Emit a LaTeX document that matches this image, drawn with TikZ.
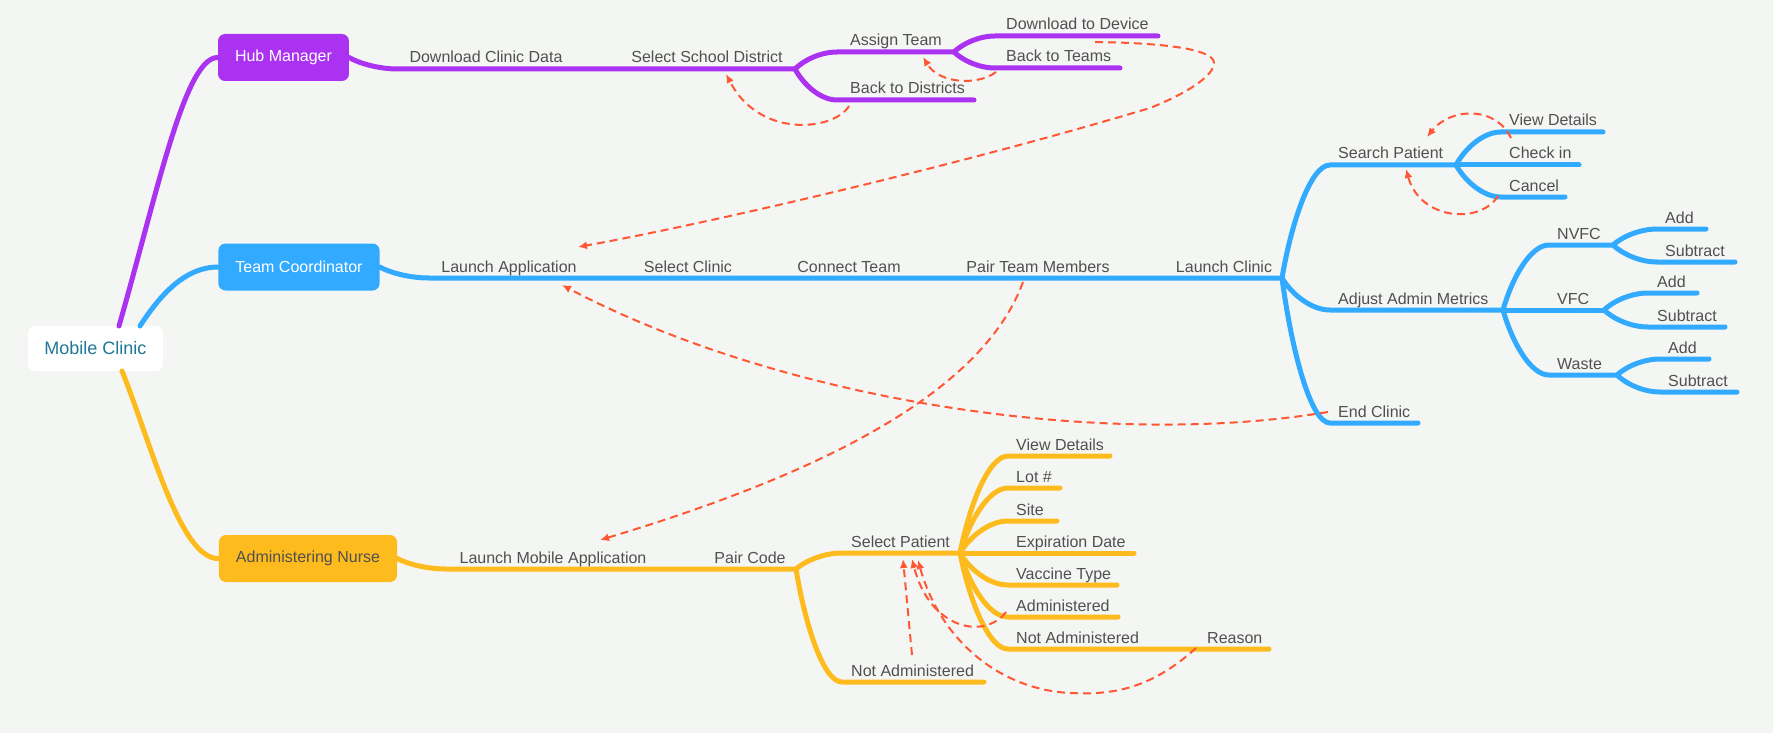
\documentclass[tikz,border=0pt]{standalone}
\usepackage{fontspec}
\setmainfont{Liberation Sans}
\usetikzlibrary{calc,arrows.meta}

\definecolor{bgcol}{RGB}{244,246,243}
\definecolor{hubcol}{RGB}{170,50,240}
\definecolor{teamcol}{RGB}{50,170,255}
\definecolor{nursecol}{RGB}{253,187,30}
\definecolor{backcol}{RGB}{255,87,51}
\definecolor{txtcol}{RGB}{80,80,80}
\definecolor{rootcol}{RGB}{30,120,150}

\begin{document}
\begin{tikzpicture}[x=1pt, y=-1pt,
  lbl/.style={font=\fontsize{16}{19}\selectfont, text=txtcol, inner sep=0pt, anchor=base west},
  midlbl/.style={lbl, anchor=base},
  topic/.style={rounded corners=7pt, minimum height=47pt, inner xsep=17pt, inner ysep=0pt, font=\fontsize{16}{19}\selectfont},
  bough/.style={to path={let \p1=(\tikztostart), \p2=(\tikztotarget) in
    .. controls ({\x1+0.2*((\x2)-(\x1))},{\y1+0.5*((\y2)-(\y1))}) and ({\x2-0.4*((\x2)-(\x1))},{\y2}) .. (\tikztotarget) \tikztonodes}},
  hubline/.style={draw=hubcol, line width=5pt, line cap=round},
  teamline/.style={draw=teamcol, line width=5pt, line cap=round},
  nurseline/.style={draw=nursecol, line width=5pt, line cap=round},
  goback/.style={draw=backcol, line width=2pt, dash pattern=on 8pt off 5pt, -{Latex[length=9pt,width=8pt]}}]
\fill[bgcol] (0,0) rectangle (1773,733); % background
\useasboundingbox (0,0) rectangle (1773,733);

% topics
\node[topic, fill=white, text=rootcol, font=\fontsize{18}{21}\selectfont, minimum height=45pt, inner xsep=16.5pt] (root) at (95.5,348.5) {Mobile Clinic};
\node[topic, fill=hubcol, text=white] (hub) at (283.5,57.5) {Hub Manager};
\node[topic, fill=teamcol, text=white] (tc) at (299,267) {Team Coordinator};
\node[topic, fill=nursecol, text=txtcol] (nurse) at (308,558.5) {Administering Nurse};

% root branches
\coordinate (root-h) at (119,326);
\coordinate (root-t) at (140,326);
\coordinate (root-n) at (122,371);
\draw[hubline] (root-h) .. controls (158,190) and (185,57) .. (hub.west); % to hub manager
\draw[teamline] (root-t) .. controls (160,295) and (185,267) .. (tc.west); % to team coordinator
\draw[nurseline] (root-n) .. controls (150,440) and (180,560) .. (nurse.west); % to nurse

% hub manager
\coordinate (hub-a) at (398,69);
\coordinate (hub-b) at (795,69);
\coordinate (as-s) at (837,52);
\coordinate (as-b) at (954,52);
\coordinate (bd-s) at (837,100);
\coordinate (bd-e) at (974,100);
\coordinate (dd-s) at (995,36);
\coordinate (dd-e) at (1158,36);
\coordinate (bt-s) at (995,68);
\coordinate (bt-e) at (1120,68);
\draw[hubline] (hub.east) to[bough] (hub-a) -- (hub-b); % main line
\draw[hubline] (hub-b) to[bough] (as-s) -- (as-b); % assign team
\draw[hubline] (hub-b) to[bough] (bd-s) -- (bd-e); % back to districts
\draw[hubline] (as-b) to[bough] (dd-s) -- (dd-e); % download to device
\draw[hubline] (as-b) to[bough] (bt-s) -- (bt-e); % back to teams
\node[midlbl] (dcd) at (486,63) {Download Clinic Data};
\node[midlbl] (ssd) at (707,63) {Select School District};
\node[lbl] (at) at (850,46) {Assign Team};
\node[lbl] (btd) at (850,94) {Back to Districts};
\node[lbl] (dtd) at (1006,30) {Download to Device};
\node[lbl] (btt) at (1006,62) {Back to Teams};

% team coordinator
\coordinate (tc-a) at (429,278);
\coordinate (lc-b) at (1282,278);
\coordinate (sp-s) at (1330,165);
\coordinate (sp-b) at (1456,165);
\coordinate (vd-s) at (1501,132);
\coordinate (vd-e) at (1603,132);
\coordinate (ci-e) at (1579,165);
\coordinate (ca-s) at (1501,197);
\coordinate (ca-e) at (1565,197);
\coordinate (am-s) at (1330,310);
\coordinate (am-b) at (1503,310);
\coordinate (nv-s) at (1549,245);
\coordinate (nv-b) at (1613,245);
\coordinate (nva-s) at (1657,229);
\coordinate (nva-e) at (1706,229);
\coordinate (nvs-s) at (1657,262);
\coordinate (nvs-e) at (1735,262);
\coordinate (vf-b) at (1604,310);
\coordinate (vfa-s) at (1648,293);
\coordinate (vfa-e) at (1697,293);
\coordinate (vfs-s) at (1648,327);
\coordinate (vfs-e) at (1725,327);
\coordinate (wa-s) at (1549,375);
\coordinate (wa-b) at (1617,375);
\coordinate (waa-s) at (1660,359);
\coordinate (waa-e) at (1709,359);
\coordinate (was-s) at (1660,392);
\coordinate (was-e) at (1737,392);
\coordinate (ec-s) at (1330,423);
\coordinate (ec-e) at (1418,423);
\draw[teamline] (tc.east) to[bough] (tc-a) -- (lc-b); % main line
\draw[teamline] (lc-b) to[bough] (sp-s) -- (sp-b); % search patient
\draw[teamline] (sp-b) to[bough] (vd-s) -- (vd-e); % view details
\draw[teamline] (sp-b) -- (ci-e); % check in
\draw[teamline] (sp-b) to[bough] (ca-s) -- (ca-e); % cancel
\draw[teamline] (lc-b) to[bough] (am-s) -- (am-b); % adjust admin metrics
\draw[teamline] (am-b) to[bough] (nv-s) -- (nv-b); % nvfc
\draw[teamline] (nv-b) to[bough] (nva-s) -- (nva-e);
\draw[teamline] (nv-b) to[bough] (nvs-s) -- (nvs-e);
\draw[teamline] (am-b) -- (vf-b); % vfc
\draw[teamline] (vf-b) to[bough] (vfa-s) -- (vfa-e);
\draw[teamline] (vf-b) to[bough] (vfs-s) -- (vfs-e);
\draw[teamline] (am-b) to[bough] (wa-s) -- (wa-b); % waste
\draw[teamline] (wa-b) to[bough] (waa-s) -- (waa-e);
\draw[teamline] (wa-b) to[bough] (was-s) -- (was-e);
\draw[teamline] (lc-b) to[bough] (ec-s) -- (ec-e); % end clinic
\node[midlbl] (la) at (509,272) {Launch Application};
\node[midlbl] (sc) at (688,272) {Select Clinic};
\node[midlbl] (ct) at (849,272) {Connect Team};
\node[midlbl] (ptm) at (1038,272) {Pair Team Members};
\node[midlbl] (lc) at (1224,272) {Launch Clinic};
\node[lbl] (sp) at (1338,159) {Search Patient};
\node[lbl] (vd1) at (1509,126) {View Details};
\node[lbl] (ci) at (1509,159) {Check in};
\node[lbl] (cn) at (1509,191) {Cancel};
\node[lbl] (aam) at (1338,304) {Adjust Admin Metrics};
\node[lbl] (nvfc) at (1557,239) {NVFC};
\node[lbl] (nvadd) at (1665,223) {Add};
\node[lbl] (nvsub) at (1665,256) {Subtract};
\node[lbl] (vfc) at (1557,304) {VFC};
\node[lbl] (vfadd) at (1657,287) {Add};
\node[lbl] (vfsub) at (1657,321) {Subtract};
\node[lbl] (waste) at (1557,369) {Waste};
\node[lbl] (waadd) at (1668,353) {Add};
\node[lbl] (wasub) at (1668,386) {Subtract};
\node[lbl] (ec) at (1338,417) {End Clinic};

% administering nurse
\coordinate (nu-a) at (446,569);
\coordinate (pc-b) at (796,569);
\coordinate (sl-s) at (842,553);
\coordinate (sl-b) at (960,553);
\coordinate (na-s) at (842,682);
\coordinate (na-e) at (984,682);
\coordinate (vd2-s) at (1008,456);
\coordinate (vd2-e) at (1110,456);
\coordinate (lot-s) at (1008,488);
\coordinate (lot-e) at (1060,488);
\coordinate (site-s) at (1008,521);
\coordinate (site-e) at (1057,521);
\coordinate (exp-e) at (1134,553);
\coordinate (vt-s) at (1008,585);
\coordinate (vt-e) at (1117,585);
\coordinate (adm-s) at (1008,617);
\coordinate (adm-e) at (1118,617);
\coordinate (nx-s) at (1008,649);
\coordinate (re-s) at (1196,649);
\coordinate (re-e) at (1269,649);
\draw[nurseline] (nurse.east) to[bough] (nu-a) -- (pc-b); % main line
\draw[nurseline] (pc-b) to[bough] (sl-s) -- (sl-b); % select patient
\draw[nurseline] (pc-b) to[bough] (na-s) -- (na-e); % not administered
\draw[nurseline] (sl-b) to[bough] (vd2-s) -- (vd2-e); % view details
\draw[nurseline] (sl-b) to[bough] (lot-s) -- (lot-e); % lot
\draw[nurseline] (sl-b) to[bough] (site-s) -- (site-e); % site
\draw[nurseline] (sl-b) -- (exp-e); % expiration date
\draw[nurseline] (sl-b) to[bough] (vt-s) -- (vt-e); % vaccine type
\draw[nurseline] (sl-b) to[bough] (adm-s) -- (adm-e); % administered
\draw[nurseline] (sl-b) to[bough] (nx-s) -- (re-s) -- (re-e); % not administered, reason
\node[midlbl] (lma) at (553,563) {Launch Mobile Application};
\node[midlbl] (pc) at (750,563) {Pair Code};
\node[lbl] (spat) at (851,547) {Select Patient};
\node[lbl] (nadm1) at (851,676) {Not Administered};
\node[lbl] (vd2) at (1016,450) {View Details};
\node[lbl] (lot) at (1016,482) {Lot \#};
\node[lbl] (site) at (1016,515) {Site};
\node[lbl] (exp) at (1016,547) {Expiration Date};
\node[lbl] (vt) at (1016,579) {Vaccine Type};
\node[lbl] (adm) at (1016,611) {Administered};
\node[lbl] (nadm2) at (1016,643) {Not Administered};
\node[lbl] (rsn) at (1207,643) {Reason};

% dashed back links
\coordinate (r1) at (849,106);  \coordinate (t1) at (726,74);
\coordinate (r2) at (996,72);   \coordinate (t2) at (923,57);
\coordinate (r3) at (1095,42);  \coordinate (t3) at (578,247);
\coordinate (r4) at (1328,412); \coordinate (t4) at (562,285);
\coordinate (r5) at (1023,282); \coordinate (t5) at (600,540);
\coordinate (r6) at (1511,138); \coordinate (t6) at (1427,137);
\coordinate (r7) at (1498,196); \coordinate (t7) at (1406,169);
\coordinate (r8) at (912,655);  \coordinate (t8) at (903,559);
\coordinate (r9) at (1006,612); \coordinate (t9) at (912,559);
\coordinate (r10) at (1196,648); \coordinate (t10) at (918,560);
\draw[goback] (r1) .. controls (835,130) and (760,140) .. (t1); % back to districts
\draw[goback] (r2) .. controls (980,85) and (940,85) .. (t2); % back to teams
\draw[goback] (r3) .. controls (1170,43) and (1214,50) .. (1214,63) .. controls (1214,75) and (1190,92) .. (1150,108) .. controls (950,168) and (700,225) .. (t3); % download to device
\draw[goback] (r4) .. controls (1100,450) and (780,400) .. (t4); % end clinic
\draw[goback] (r5) .. controls (980,400) and (800,480) .. (t5); % pair team members
\draw[goback] (r6) .. controls (1495,105) and (1450,108) .. (t6); % view details
\draw[goback] (r7) .. controls (1480,225) and (1420,220) .. (t7); % cancel
\draw[goback] (r8) -- (t8); % not administered
\draw[goback] (r9) .. controls (985,640) and (930,630) .. (t9); % administered
\draw[goback] (r10) .. controls (1150,690) and (1110,695) .. (1071,693) .. controls (1000,690) and (940,640) .. (t10); % reason
\end{tikzpicture}
\end{document}
